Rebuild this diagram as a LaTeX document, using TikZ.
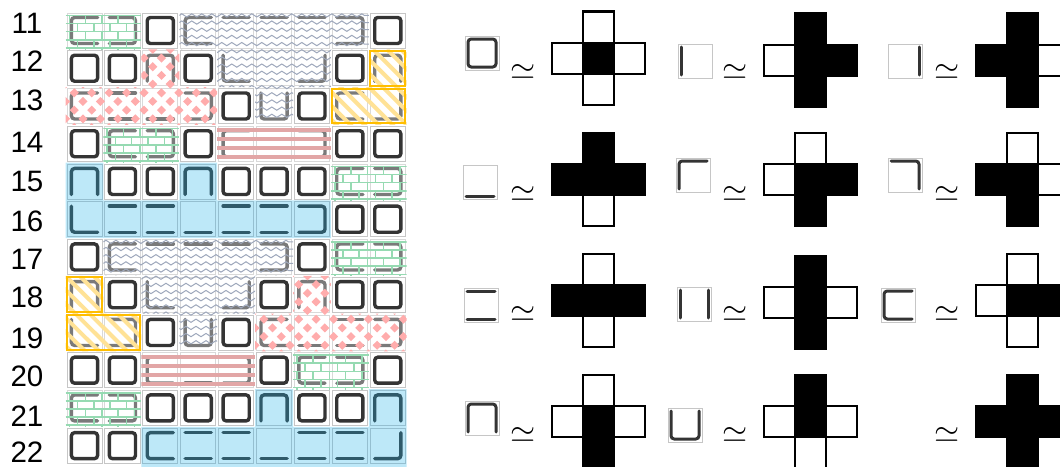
\RequirePackage{fix-cm}
\documentclass[tikz,border=0pt]{standalone}
\usepackage{fontspec}
\setmainfont{Liberation Sans}
\usetikzlibrary{decorations.pathmorphing}

\definecolor{wallgray}{RGB}{52,52,52}
\definecolor{framegray}{RGB}{198,198,198}
\definecolor{brickgreen}{RGB}{150,218,178}
\definecolor{wavegray}{RGB}{158,168,188}
\definecolor{diamondred}{RGB}{255,172,172}
\definecolor{stripered}{RGB}{226,166,166}
\definecolor{hatchyellow}{RGB}{255,226,150}
\definecolor{frameorange}{RGB}{255,190,0}
\definecolor{floorblue}{RGB}{38,178,232}

\tikzset{
  cellframe/.style={draw=framegray, line width=0.02cm},
  wall/.style={draw=wallgray, line width=0.085cm, line cap=round, rounded corners=0.08cm},
  veil/.style={fill=white, fill opacity=0.35},
  brick/.style={draw=brickgreen, line width=0.04cm},
  wave/.style={draw=wavegray, line width=0.025cm, decorate, decoration={zigzag, segment length=0.25cm, amplitude=0.04cm}},
  stripe/.style={draw=stripered, line width=0.1cm},
  hatch/.style={draw=hatchyellow, line width=0.1cm},
  regionframe/.style={draw=frameorange, line width=0.05cm},
  floor/.style={fill=floorblue, fill opacity=0.3},
  crosscell/.style={draw=black, line width=0.05cm},
  rowlabel/.style={font=\fontsize{21}{25}\selectfont, inner sep=0pt},
  simlabel/.style={font=\fontsize{23}{28}\selectfont, inner sep=0pt}
}

% tile at (#1,#2), walls: top #3, right #4, bottom #5, left #6
\newcommand{\maptile}[6]{%
  \draw[cellframe] (#1-\tileout,#2-\tileout) rectangle (#1+\tileout,#2+\tileout);
  \edef\wallpath{(#1-\tilein,#2)
    \ifnum#6=1 --\fi (#1-\tilein,#2-\tilein)
    \ifnum#3=1 --\fi (#1+\tilein,#2-\tilein)
    \ifnum#4=1 --\fi (#1+\tilein,#2+\tilein)
    \ifnum#5=1 --\fi (#1-\tilein,#2+\tilein)
    \ifnum#6=1 --\fi (#1-\tilein,#2)}%
  \draw[wall] \wallpath;
}

% cross at (#1,#2), fills: top, left, centre, right, bottom
\newcommand{\crossfig}[7]{%
  \draw[crosscell, fill=#3] (#1-15.5,#2-46.5) rectangle (#1+15.5,#2-15.5);
  \draw[crosscell, fill=#4] (#1-46.5,#2-15.5) rectangle (#1-15.5,#2+15.5);
  \draw[crosscell, fill=#6] (#1+15.5,#2-15.5) rectangle (#1+46.5,#2+15.5);
  \draw[crosscell, fill=#7] (#1-15.5,#2+15.5) rectangle (#1+15.5,#2+46.5);
  \draw[crosscell, fill=#5] (#1-15.5,#2-15.5) rectangle (#1+15.5,#2+15.5);
}

\newcommand{\brickfill}[3]{%
  \foreach \k in {0,...,4} {
    \draw[brick] (#1,{#2+0.1+0.215*\k}) -- (#3,{#2+0.1+0.215*\k});
    \foreach \j in {0,...,5}
      \draw[brick] ({#1+0.1+0.43*\j+0.215*mod(\k,2)},{#2+0.1+0.215*\k}) -- ++(0,0.215);
  }
}
\newcommand{\wavefill}[4]{%
  \foreach \k in {1,...,#4}
    \draw[wave] (#1,{#2+0.19*\k-0.09}) -- (#3,{#2+0.19*\k-0.09});
}
\newcommand{\stripefill}[3]{%
  \foreach \k in {0,...,3}
    \draw[stripe] (#1,{#2+0.14+0.24*\k}) -- (#3,{#2+0.14+0.24*\k});
}
\newcommand{\hatchfill}[2]{%
  \foreach \k in {-7,...,6}
    \draw[hatch] ({#1+0.37*\k},#2) -- ++(2.2,2.2);
}
\newcommand{\diamondfill}[2]{%
  \foreach \i in {0,...,9} \foreach \j in {0,...,5} {
    \fill[diamondred] ({#1+0.46*\i},{#2+0.46*\j}) ++(-0.12,0) -- ++(0.12,-0.12) -- ++(0.12,0.12) -- ++(-0.12,0.12) -- cycle;
    \fill[diamondred] ({#1+0.46*\i+0.23},{#2+0.46*\j+0.23}) ++(-0.12,0) -- ++(0.12,-0.12) -- ++(0.12,0.12) -- ++(-0.12,0.12) -- cycle;
  }
}

\begin{document}
\begin{tikzpicture}[x=0.025cm, y=-0.025cm]
\useasboundingbox (0,0) rectangle (1060,467);
\clip (0,0) rectangle (1060,467);

% row numbers
\node[rowlabel] (l11) at (27,23) {11};
\node[rowlabel] (l12) at (27,61) {12};
\node[rowlabel] (l13) at (27,100) {13};
\node[rowlabel] (l14) at (27,142) {14};
\node[rowlabel] (l15) at (27,181) {15};
\node[rowlabel] (l16) at (27,221) {16};
\node[rowlabel] (l17) at (27,259) {17};
\node[rowlabel] (l18) at (27,297) {18};
\node[rowlabel] (l19) at (27,338) {19};
\node[rowlabel] (l20) at (27,376) {20};
\node[rowlabel] (l21) at (27,416) {21};
\node[rowlabel] (l22) at (27,452) {22};

% the map
\begin{scope}[shift={(84.5,30.5)}, x=0.9475cm, y=-0.9433cm]
\def\tileout{0.463}\def\tilein{0.345}
% row 11
\maptile{0}{0}{1}{0}{1}{1}
\maptile{1}{0}{1}{1}{1}{0}
\maptile{2}{0}{1}{1}{1}{1}
\maptile{3}{0}{1}{0}{1}{1}
\maptile{4}{0}{1}{0}{0}{0}
\maptile{5}{0}{1}{0}{0}{0}
\maptile{6}{0}{1}{0}{0}{0}
\maptile{7}{0}{1}{1}{1}{0}
\maptile{8}{0}{1}{1}{1}{1}
% row 12
\maptile{0}{1}{1}{1}{1}{1}
\maptile{1}{1}{1}{1}{1}{1}
\maptile{2}{1}{1}{1}{0}{1}
\maptile{3}{1}{1}{1}{1}{1}
\maptile{4}{1}{0}{0}{1}{1}
\maptile{5}{1}{0}{0}{0}{0}
\maptile{6}{1}{0}{1}{1}{0}
\maptile{7}{1}{1}{1}{1}{1}
\maptile{8}{1}{1}{1}{0}{1}
% row 13
\maptile{0}{2}{1}{0}{1}{1}
\maptile{1}{2}{1}{0}{1}{0}
\maptile{2}{2}{0}{0}{1}{0}
\maptile{3}{2}{1}{1}{1}{0}
\maptile{4}{2}{1}{1}{1}{1}
\maptile{5}{2}{0}{1}{1}{1}
\maptile{6}{2}{1}{1}{1}{1}
\maptile{7}{2}{1}{0}{1}{1}
\maptile{8}{2}{0}{1}{1}{0}
% row 14
\maptile{0}{3}{1}{1}{1}{1}
\maptile{1}{3}{1}{0}{1}{1}
\maptile{2}{3}{1}{1}{1}{0}
\maptile{3}{3}{1}{1}{1}{1}
\maptile{4}{3}{1}{0}{1}{1}
\maptile{5}{3}{1}{0}{1}{0}
\maptile{6}{3}{1}{1}{1}{0}
\maptile{7}{3}{1}{1}{1}{1}
\maptile{8}{3}{1}{1}{1}{1}
% row 15
\maptile{0}{4}{1}{1}{0}{1}
\maptile{1}{4}{1}{1}{1}{1}
\maptile{2}{4}{1}{1}{1}{1}
\maptile{3}{4}{1}{1}{0}{1}
\maptile{4}{4}{1}{1}{1}{1}
\maptile{5}{4}{1}{1}{1}{1}
\maptile{6}{4}{1}{1}{1}{1}
\maptile{7}{4}{1}{0}{1}{1}
\maptile{8}{4}{1}{1}{1}{0}
% row 16
\maptile{0}{5}{0}{0}{1}{1}
\maptile{1}{5}{1}{0}{1}{0}
\maptile{2}{5}{1}{0}{1}{0}
\maptile{3}{5}{0}{0}{1}{0}
\maptile{4}{5}{1}{0}{1}{0}
\maptile{5}{5}{1}{0}{1}{0}
\maptile{6}{5}{1}{1}{1}{0}
\maptile{7}{5}{1}{1}{1}{1}
\maptile{8}{5}{1}{1}{1}{1}
% row 17
\maptile{0}{6}{1}{1}{1}{1}
\maptile{1}{6}{1}{0}{1}{1}
\maptile{2}{6}{1}{0}{0}{0}
\maptile{3}{6}{1}{0}{0}{0}
\maptile{4}{6}{1}{0}{0}{0}
\maptile{5}{6}{1}{1}{1}{0}
\maptile{6}{6}{1}{1}{1}{1}
\maptile{7}{6}{1}{0}{1}{1}
\maptile{8}{6}{1}{1}{1}{0}
% row 18
\maptile{0}{7}{1}{1}{0}{1}
\maptile{1}{7}{1}{1}{1}{1}
\maptile{2}{7}{0}{0}{1}{1}
\maptile{3}{7}{0}{0}{0}{0}
\maptile{4}{7}{0}{1}{1}{0}
\maptile{5}{7}{1}{1}{1}{1}
\maptile{6}{7}{1}{1}{0}{1}
\maptile{7}{7}{1}{1}{1}{1}
\maptile{8}{7}{1}{1}{1}{1}
% row 19
\maptile{0}{8}{0}{0}{1}{1}
\maptile{1}{8}{1}{1}{1}{0}
\maptile{2}{8}{1}{1}{1}{1}
\maptile{3}{8}{0}{1}{1}{1}
\maptile{4}{8}{1}{1}{1}{1}
\maptile{5}{8}{1}{0}{1}{1}
\maptile{6}{8}{0}{0}{1}{0}
\maptile{7}{8}{1}{0}{1}{0}
\maptile{8}{8}{1}{1}{1}{0}
% row 20
\maptile{0}{9}{1}{1}{1}{1}
\maptile{1}{9}{1}{1}{1}{1}
\maptile{2}{9}{1}{0}{1}{1}
\maptile{3}{9}{1}{0}{1}{0}
\maptile{4}{9}{1}{1}{1}{0}
\maptile{5}{9}{1}{1}{1}{1}
\maptile{6}{9}{1}{0}{1}{1}
\maptile{7}{9}{1}{1}{1}{0}
\maptile{8}{9}{1}{1}{1}{1}
% row 21
\maptile{0}{10}{1}{0}{1}{1}
\maptile{1}{10}{1}{1}{1}{0}
\maptile{2}{10}{1}{1}{1}{1}
\maptile{3}{10}{1}{1}{1}{1}
\maptile{4}{10}{1}{1}{1}{1}
\maptile{5}{10}{1}{1}{0}{1}
\maptile{6}{10}{1}{1}{1}{1}
\maptile{7}{10}{1}{1}{1}{1}
\maptile{8}{10}{1}{1}{0}{1}
% row 22
\maptile{0}{11}{1}{1}{1}{1}
\maptile{1}{11}{1}{1}{1}{1}
\maptile{2}{11}{1}{0}{1}{1}
\maptile{3}{11}{1}{0}{1}{0}
\maptile{4}{11}{1}{0}{1}{0}
\maptile{5}{11}{0}{0}{1}{0}
\maptile{6}{11}{1}{0}{1}{0}
\maptile{7}{11}{1}{0}{1}{0}
\maptile{8}{11}{0}{1}{1}{0}

% green bricks
\foreach \c/\r in {0/0, 1/3, 7/4, 7/6, 6/9, 0/10} {
  \begin{scope}
    \clip (\c-0.5,\r-0.5) rectangle (\c+1.5,\r+0.5);
    \fill[veil] (\c-0.5,\r-0.5) rectangle (\c+1.5,\r+0.5);
    \brickfill{\c-0.5}{\r-0.5}{\c+1.5}
  \end{scope}
}
% red stripes
\foreach \c/\r in {4/3, 2/9} {
  \begin{scope}
    \clip (\c-0.5,\r-0.5) rectangle (\c+2.5,\r+0.5);
    \fill[veil] (\c-0.5,\r-0.5) rectangle (\c+2.5,\r+0.5);
    \stripefill{\c-0.5}{\r-0.5}{\c+2.5}
  \end{scope}
}
% grey waves
\foreach \c/\r in {3/0, 1/6} {
  \begin{scope}
    \clip (\c-0.5,\r-0.5) rectangle (\c+4.5,\r+0.5)
          (\c+0.5,\r+0.5) rectangle (\c+3.5,\r+1.5)
          (\c+1.5,\r+1.5) rectangle (\c+2.5,\r+2.5);
    \fill[veil] (\c-0.5,\r-0.5) rectangle (\c+4.5,\r+2.5);
    \wavefill{\c-0.5}{\r-0.5}{\c+4.5}{15}
  \end{scope}
}
% red diamonds
\begin{scope}
  \clip (1.5,0.5) rectangle (2.5,1.5) (-0.5,1.5) rectangle (3.5,2.5);
  \fill[veil] (-0.5,0.5) rectangle (3.5,2.5);
  \diamondfill{-0.5}{0.5}
\end{scope}
\begin{scope}
  \clip (5.5,6.5) rectangle (6.5,7.5) (4.5,7.5) rectangle (8.5,8.5);
  \fill[veil] (4.5,6.5) rectangle (8.5,8.5);
  \diamondfill{4.5}{6.5}
\end{scope}
% yellow hatching
\begin{scope}
  \clip (7.5,0.5) rectangle (8.5,1.5) (6.5,1.5) rectangle (8.5,2.5);
  \fill[veil] (6.5,0.5) rectangle (8.5,2.5);
  \hatchfill{6.5}{0.5}
\end{scope}
\begin{scope}
  \clip (-0.5,6.5) rectangle (0.5,7.5) (-0.5,7.5) rectangle (1.5,8.5);
  \fill[veil] (-0.5,6.5) rectangle (1.5,8.5);
  \hatchfill{-0.5}{6.5}
\end{scope}
\draw[regionframe] (7.537,0.537) rectangle (8.463,1.463);
\draw[regionframe] (6.537,1.537) rectangle (8.463,2.463);
\draw[regionframe] (-0.463,6.537) rectangle (0.463,7.463);
\draw[regionframe] (-0.463,7.537) rectangle (1.463,8.463);
% blue floor
\fill[floor] (-0.5,3.5) rectangle (0.5,4.5) (2.5,3.5) rectangle (3.5,4.5)
             (-0.5,4.5) rectangle (6.5,5.5);
\fill[floor] (4.5,9.5) rectangle (5.5,10.5) (7.5,9.5) rectangle (8.5,10.5)
             (1.5,10.5) rectangle (8.5,11.6);
\end{scope}

% tile icons
\begin{scope}
\def\tileout{17}\def\tilein{14}
\tikzset{wall/.append style={line width=0.075cm}}
\maptile{482}{53}{1}{1}{1}{1}
\maptile{695}{61}{0}{0}{0}{1}
\maptile{905}{61}{0}{1}{0}{0}
\maptile{480}{182}{0}{0}{1}{0}
\maptile{693}{175}{1}{0}{0}{1}
\maptile{905}{175}{1}{1}{0}{0}
\maptile{481}{305}{1}{0}{1}{0}
\maptile{694}{304}{0}{1}{0}{1}
\maptile{898}{305}{1}{0}{1}{1}
\maptile{482}{418}{1}{1}{0}{1}
\maptile{685}{425}{0}{1}{1}{1}
\end{scope}

% similarity signs
\node[simlabel] (s11) at (523,72) {$\simeq$};
\node[simlabel] (s12) at (735,72) {$\simeq$};
\node[simlabel] (s13) at (947,72) {$\simeq$};
\node[simlabel] (s21) at (523,194) {$\simeq$};
\node[simlabel] (s22) at (735,194) {$\simeq$};
\node[simlabel] (s23) at (947,194) {$\simeq$};
\node[simlabel] (s31) at (523,314) {$\simeq$};
\node[simlabel] (s32) at (735,314) {$\simeq$};
\node[simlabel] (s33) at (947,314) {$\simeq$};
\node[simlabel] (s41) at (523,435) {$\simeq$};
\node[simlabel] (s42) at (735,435) {$\simeq$};
\node[simlabel] (s43) at (947,435) {$\simeq$};

% neighbourhood crosses
\crossfig{598}{58}{white}{white}{black}{white}{white}
\crossfig{810}{60}{black}{white}{black}{black}{black}
\crossfig{1022}{60}{black}{black}{black}{white}{black}
\crossfig{598}{179}{black}{black}{black}{black}{white}
\crossfig{810}{179}{white}{white}{black}{black}{black}
\crossfig{1022}{179}{white}{black}{black}{white}{black}
\crossfig{598}{300}{white}{black}{black}{black}{white}
\crossfig{810}{302}{black}{white}{black}{white}{black}
\crossfig{1022}{300}{white}{white}{black}{black}{white}
\crossfig{598}{421}{white}{white}{black}{white}{black}
\crossfig{810}{421}{black}{white}{black}{white}{white}
\crossfig{1022}{421}{black}{black}{black}{black}{black}
\end{tikzpicture}
\end{document}
